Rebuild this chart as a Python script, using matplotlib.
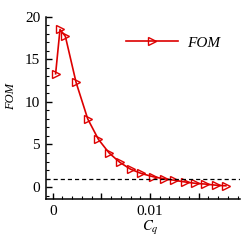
import matplotlib
matplotlib.use("Agg")
import matplotlib.pyplot as plt
from matplotlib.ticker import FixedLocator, MultipleLocator, FixedFormatter

plt.rcParams['font.family'] = ['Liberation Serif', 'DejaVu Serif']
plt.rcParams['mathtext.fontset'] = 'stix'

# Data
cq = [0.0003, 0.00075, 0.0013, 0.0024, 0.0036, 0.0047, 0.0058, 0.0069, 0.0080,
      0.0091, 0.0103, 0.0114, 0.0125, 0.0136, 0.0146, 0.0157, 0.0168, 0.0178]
fom = [13.3, 18.5, 17.7, 12.3, 8.0, 5.6, 4.0, 2.9, 2.1,
       1.6, 1.22, 0.98, 0.8, 0.6, 0.45, 0.35, 0.22, 0.15]
x_major = [0, 0.005, 0.01, 0.015]
x_labels = ['0', '', '0.01', '']
ref_level = 1.0

red = '#dd0000'

fig = plt.figure(figsize=(2.53, 2.40), dpi=100)
ax = fig.add_axes([0.1806, 0.1708, 0.9486 - 0.1806, 0.9304 - 0.1708])

ax.plot(cq, fom, color=red, lw=1.2, marker='>', markersize=5.5,
        markerfacecolor='none', markeredgecolor=red, markeredgewidth=1.0,
        label='FOM')
ax.axhline(ref_level, color='black', lw=0.9, ls=(0, (3.3, 2.4)))

ax.set_xlim(-0.00072, 0.01925)
ax.set_ylim(-1.4, 20)

ax.xaxis.set_major_locator(FixedLocator(x_major))
ax.xaxis.set_major_formatter(FixedFormatter(x_labels))
ax.xaxis.set_minor_locator(MultipleLocator(0.001))
ax.yaxis.set_major_locator(MultipleLocator(5))
ax.yaxis.set_minor_locator(MultipleLocator(1))

for s in ['top', 'right']:
    ax.spines[s].set_visible(False)
for s in ['left', 'bottom']:
    ax.spines[s].set_linewidth(1.1)

ax.tick_params(which='major', direction='in', length=4.5, width=1.0,
               labelsize=11, pad=4)
ax.tick_params(which='minor', direction='in', length=2.2, width=0.8)

ax.set_ylabel('FOM', fontsize=9, style='italic')
ax.yaxis.set_label_coords(-0.148, 0.56)
ax.set_xlabel('$C_q$', fontsize=10.5)
ax.xaxis.set_label_coords(0.537, -0.11)

ax.legend(loc='center left', bbox_to_anchor=(0.345, 0.856), frameon=False,
          handlelength=3.4, handletextpad=0.55, numpoints=1,
          prop={'style': 'italic', 'size': 11})

fig.savefig('out.png', dpi=100)
